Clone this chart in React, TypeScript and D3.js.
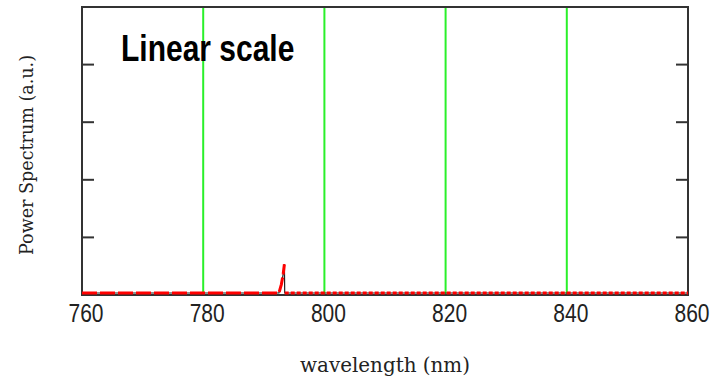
import React from 'react';
import * as d3 from 'd3';

// wavelength axis ticks (nm)
const xTicks = [760, 780, 800, 820, 840, 860];
// green marker lines
const markers = [780, 800, 820, 840];
// unlabeled y ticks (a.u.)
const yTicks = [1, 2, 3, 4];

// spectrum trace
const wavelengths = [760, 792.5, 792.9, 793.2, 793.4, 793.45, 860];
const power = [0, 0, 0.15, 0.33, 0.5, 0, 0];
const splitAt = 5; // dashed part before, dotted part after

const width = 715;
const height = 385;
const margin = { top: 7, right: 27, bottom: 90, left: 82 };

const App = () => {
  const x = d3.scaleLinear()
    .domain([760, 860])
    .range([margin.left, width - margin.right]);
  const y = d3.scaleLinear()
    .domain([0, 5])
    .range([height - margin.bottom, margin.top]);

  const pts: [number, number][] = wavelengths.map((w, i) => [w, power[i]]);
  const line = d3.line<[number, number]>()
    .x(d => x(d[0]))
    .y(d => y(d[1]));

  const x0 = x(760), x1 = x(860), y0 = y(0), y1 = y(5);

  return (
    <div style={{ position: 'absolute', left: 0, top: 0 }}>
      <svg width={width} height={height} style={{ display: 'block', background: '#fff' }}>
        {/* green markers */}
        {markers.map(m => (
          <line key={m} x1={x(m)} x2={x(m)} y1={y1} y2={y0}
                stroke="#2af02a" strokeWidth={2} />
        ))}

        {/* frame */}
        <rect x={x0} y={y1} width={x1 - x0} height={y0 - y1}
              fill="none" stroke="#333" strokeWidth={2} />
        {yTicks.map(t => (
          <g key={t} stroke="#333" strokeWidth={2}>
            <line x1={x0} x2={x0 + 12} y1={y(t)} y2={y(t)} />
            <line x1={x1 - 12} x2={x1} y1={y(t)} y2={y(t)} />
          </g>
        ))}

        {/* spectrum */}
        <g transform="translate(0,-2)">
          <path d={line(pts) || ''} fill="none" stroke="#222" strokeWidth={1.2} />
          <path d={line(pts.slice(0, splitAt)) || ''} fill="none"
                stroke="#ff0000" strokeWidth={3} strokeDasharray="15 3" />
          <path d={line(pts.slice(splitAt)) || ''} fill="none"
                stroke="#ff0000" strokeWidth={3} strokeDasharray="4 2" />
        </g>

        {/* x tick labels */}
        {xTicks.map(t => (
          <text key={t} transform={`translate(${x(t) + 4},322) scale(1,1.2)`}
                textAnchor="middle" fontFamily="Liberation Sans, Arial, sans-serif"
                fontSize={21} fill="#222">{t}</text>
        ))}

        {/* title */}
        <text transform="translate(121,61) scale(1,1.2)" fontFamily="Liberation Sans, Arial, sans-serif"
              fontWeight="bold" fontSize={30} fill="#000">Linear scale</text>

        {/* axis titles */}
        <text x={385} y={372} textAnchor="middle" fontFamily="DejaVu Serif, serif"
              fontSize={20} textLength={170} lengthAdjust="spacingAndGlyphs"
              fill="#222">wavelength (nm)</text>
        <text transform="translate(33,155) rotate(-90)" textAnchor="middle"
              fontFamily="DejaVu Serif, serif" fontSize={19} textLength={200}
              lengthAdjust="spacingAndGlyphs" fill="#222">Power Spectrum (a.u.)</text>
      </svg>
    </div>
  );
};

export default App;
